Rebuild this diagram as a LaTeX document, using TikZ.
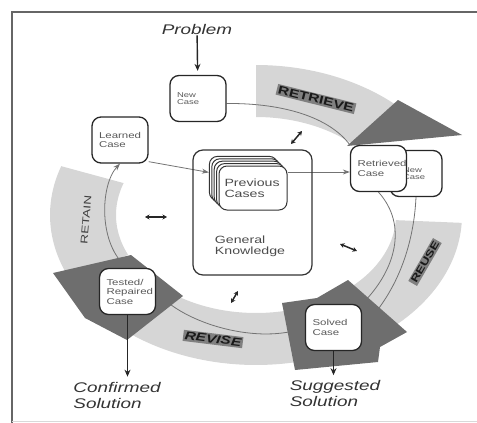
\documentclass[tikz,border=0pt]{standalone}
\usepackage{fontspec}
\setmainfont{Liberation Sans}[FakeStretch=1.35]
\usetikzlibrary{arrows.meta,positioning}
\pgfdeclarelayer{background}
\pgfdeclarelayer{foreground}
\pgfsetlayers{background,main,foreground}
\tikzset{every node/.style={font=\fontsize{8.5}{9.5}\selectfont}}

\begin{document}
\begin{tikzpicture}[x=1pt,y=1pt,
    casebox/.style={draw=black!85, line width=1.3pt, rounded corners=9pt, fill=white,
      minimum width=56pt, minimum height=46pt, text width=42pt, align=left, text=black!65},
    newbox/.style={casebox, font=\fontsize{7}{7.5}\selectfont},
    card/.style={draw=black!80, line width=1pt, rounded corners=8pt, fill=white,
      minimum width=68pt, minimum height=44pt},
    gkbox/.style={draw=black!80, line width=1.2pt, rounded corners=10pt,
      minimum width=119pt, minimum height=125pt},
    band/.style={fill=black!16},
    head/.style={fill=black!57},
    link/.style={draw=black!55, line width=0.8pt},
    stage/.style={fill=black!50, text=black!90, inner sep=1.5pt,
      font=\bfseries\fontsize{11.5}{12}\selectfont},
    outtext/.style={align=left, inner sep=1pt, text=black!80,
      font=\itshape\fontsize{14}{16}\selectfont},
    dblarrow/.style={{Stealth[length=4.5pt,width=5pt]}-{Stealth[length=4.5pt,width=5pt]},
      line width=1.5pt, black!85},
    outarrow/.style={-{Stealth[length=7pt,width=6pt]}, line width=1.4pt, black!85,
      shorten >=4pt}]

  \useasboundingbox (0,0) rectangle (477,-423);

  % frame and the four bands of the cycle
  \begin{pgfonlayer}{background}
    \draw[black!60, line width=2.5pt] (12,-423) -- (12,-12) -- (477,-12);
    \draw[black!15, line width=1pt] (12,-421) -- (477,-421);
    \foreach \a/\b in {90/47, -3/-51, -78/-127, 161/204}
      \fill[band] plot[domain=\a:\b, samples=30] ({256+206*cos(\x)},{-215+150*sin(\x)})
        -- plot[domain=\b:\a, samples=30] ({256+140*cos(\x)},{-215+98*sin(\x)}) -- cycle;
  \end{pgfonlayer}

  \begin{pgfonlayer}{foreground}
    \node[outtext] (problem) at (197,-29) {Problem};
    \node[newbox] (newcase) at (198,-98.5) {New\\Case};
    \node[casebox] (learned) at (120,-140) {Learned\\Case};
    \node[newbox, minimum width=52pt, text width=26pt] (newcasecopy) at (416,-173.5) {New\\Case};
    \node[casebox] (retrieved) at (378.5,-168.5) {Retrieved\\Case};
    \node[gkbox] (gk) at (252.5,-212.5) {};
    \foreach \i in {4,3,2,1}
      \node[card] (card\i) at ({253-2.4*\i},{-188+2.4*\i}) {};
    \node[card, text width=57pt, align=left, text=black!70,
      font=\fontsize{10.5}{11}\selectfont] (prev) at (253,-188) {Previous\\Cases};
    \node[align=left, text=black!70, font=\fontsize{10.5}{11}\selectfont]
      (gktext) at (250,-246) {General\\Knowledge};
    \node[casebox] (tested) at (127.5,-291.5) {Tested/\\Repaired\\Case};
    \node[casebox] (solved) at (333.5,-327.5) {Solved\\Case};
    \node[outtext] (confirmed) at (117,-395) {Confirmed\\Solution};
    \node[outtext] (suggested) at (335,-393.5) {Suggested\\Solution};
    % process names
    \node[stage, rotate=-14] (retrieve) at (316,-99) {RETRIEVE};
    \node[stage, rotate=60, font=\bfseries\fontsize{10}{10}\selectfont] (reuse) at (425,-262) {REUSE};
    \node[stage, rotate=-7, font=\bfseries\itshape\fontsize{11.5}{12}\selectfont] (revise) at (213,-339) {REVISE};
    \node[rotate=85, text=black!75, font=\fontsize{10}{10}\selectfont] (retain) at (86,-220) {RETAIN};
  \end{pgfonlayer}

  % cycle lines, ends hidden by the arrow heads
  \draw[link] ([yshift=-5pt]newcase.east) .. controls (285,-103) and (330,-118) .. (retrieved.north west);
  \draw[link] (retrieved.south) .. controls (408,-225) and (396,-270) .. (solved.north east);
  \draw[link] (newcasecopy.south) .. controls (414,-240) and (400,-290) .. (solved.east);
  \draw[link] (solved.west) .. controls (260,-345) and (185,-325) .. (tested.east);
  \draw[link, -{Stealth[length=7pt,width=5pt]}] (tested.north) .. controls (98,-245) and (100,-185) .. (learned.south);

  % arrow heads
  \fill[head] (347,-146) -- (398,-100) -- (462,-135) -- cycle;
  \fill[head] (282,-303) -- (317,-298) -- (348,-280) -- (407,-332) -- (380,-347)
    -- (378,-362) -- (295,-370) -- cycle;
  \fill[head] (53,-273) -- (131,-255) -- (183,-296) -- (127,-340) -- (85,-318) -- cycle;

  \draw[link, -{Stealth[length=7pt,width=5pt]}] ([yshift=2pt]learned.south east) -- ([yshift=6pt]card4.west);
  \draw[link, -{Stealth[length=7pt,width=5pt]}] ([yshift=16pt]prev.east) -- ([yshift=-3.5pt]retrieved.west);

  \draw[outarrow] (problem) -- (newcase);
  \draw[outarrow] (tested.south) -- (tested.south |- confirmed.north);
  \draw[outarrow] (solved.south) -- (solved.south |- suggested.north);

  % exchange with the knowledge
  \coordinate (swapL1) at (145,-217);
  \coordinate (swapL2) at (167,-217);
  \coordinate (swapT1) at (291,-144);
  \coordinate (swapT2) at (302,-131);
  \coordinate (swapR1) at (340,-244);
  \coordinate (swapR2) at (357,-251);
  \coordinate (swapB1) at (231,-303);
  \coordinate (swapB2) at (238,-291);
  \draw[dblarrow] (swapL1) -- (swapL2);
  \draw[dblarrow] (swapT1) -- (swapT2);
  \draw[dblarrow] (swapR1) -- (swapR2);
  \draw[dblarrow] (swapB1) -- (swapB2);
\end{tikzpicture}
\end{document}
